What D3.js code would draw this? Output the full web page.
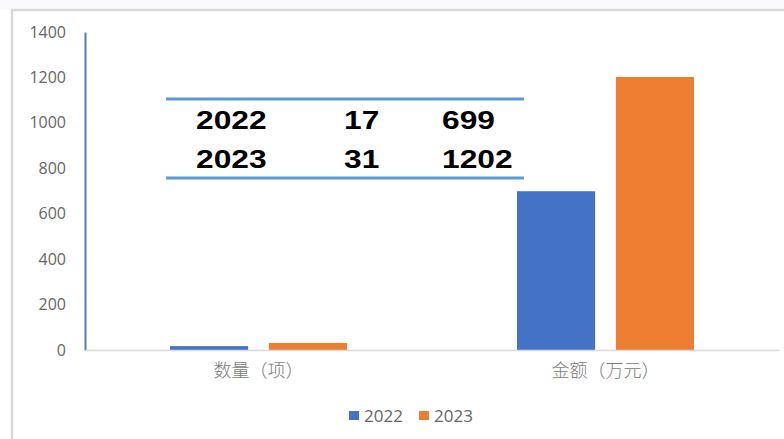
<!DOCTYPE html>
<html>
<head>
<meta charset="utf-8">
<script src="https://cdn.jsdelivr.net/npm/d3@7"></script>
<style>
  html, body { margin: 0; padding: 0; background: #ffffff; }
  svg { display: block; }
</style>
</head>
<body>
<svg id="chart" width="784" height="439"></svg>
<script>
// Projects (count) and funding (10k yuan) by year
const categories = ["数量（项）", "金额（万元）"];
const years = ["2022", "2023"];
const counts = [17, 31];
const amounts = [699, 1202];
const yTicks = [0, 200, 400, 600, 800, 1000, 1200, 1400];

const seriesValues = {
  "2022": [counts[0], amounts[0]],
  "2023": [counts[1], amounts[1]]
};
const colors = { "2022": "#4472C4", "2023": "#ED7D31" };

const svg = d3.select("#chart");
const W = 784, H = 439;
const plot = { left: 85, right: 779, top: 32, bottom: 350 };

// faint frame around the chart area
svg.append("rect").attr("x", 0).attr("y", 0).attr("width", W).attr("height", 10).attr("fill", "#f9f9fc");
svg.append("path")
  .attr("d", `M12,${H} V10 H${W}`)
  .attr("fill", "none").attr("stroke", "#d9d9d9").attr("stroke-width", 2.5);

const y = d3.scaleLinear().domain([0, 1400]).range([plot.bottom, plot.top]);
const x = d3.scaleBand().domain(categories).range([plot.left, plot.right]).padding(0);
const xSub = d3.scaleBand().domain(years)
  .range([-x.bandwidth() * 0.255, x.bandwidth() * 0.255]).paddingInner(0.21);

// value axis
const yAxis = svg.append("g")
  .attr("transform", `translate(${plot.left},0)`)
  .call(d3.axisLeft(y).tickValues(yTicks).tickFormat(d3.format("d"))
    .tickSize(0).tickSizeOuter(0).tickPadding(19));
yAxis.select(".domain").attr("stroke", "#5a78b8").attr("stroke-width", 2);
yAxis.selectAll("text")
  .attr("font-family", "'Open Sans', sans-serif")
  .attr("font-size", 16)
  .attr("fill", "#666666");

// bars
const groups = svg.append("g").selectAll("g")
  .data(categories)
  .join("g")
  .attr("transform", d => `translate(${x(d) + x.bandwidth() / 2},0)`);

groups.selectAll("rect")
  .data((c, i) => years.map(yr => ({ yr, v: seriesValues[yr][i] })))
  .join("rect")
  .attr("x", d => xSub(d.yr))
  .attr("width", xSub.bandwidth())
  .attr("y", d => y(d.v))
  .attr("height", d => y(0) - y(d.v))
  .attr("fill", d => colors[d.yr]);

// category axis
const xAxis = svg.append("g")
  .attr("transform", `translate(0,${plot.bottom})`)
  .call(d3.axisBottom(x).tickSize(0).tickSizeOuter(0).tickPadding(14));
xAxis.select(".domain").attr("stroke", "#d9d9d9").attr("stroke-width", 1.5);
xAxis.selectAll("text")
  .attr("font-family", "'Noto Sans CJK SC', sans-serif")
  .attr("font-size", 18)
  .attr("font-weight", 300)
  .attr("fill", "#7a7a7a");

// legend
const legend = svg.append("g").attr("transform", "translate(349,411)");
const li = legend.selectAll("g").data(years).join("g")
  .attr("transform", (d, i) => `translate(${i * 70},0)`);
li.append("rect").attr("width", 10).attr("height", 9).attr("fill", d => colors[d]);
li.append("text")
  .attr("x", 15).attr("y", 10.5)
  .attr("font-family", "'Open Sans', sans-serif")
  .attr("font-size", 17)
  .attr("fill", "#666666")
  .text(d => d);

// summary table overlay
const table = svg.append("g");
const tableX = [166, 524];
[99, 178].forEach(ly => {
  table.append("line")
    .attr("x1", tableX[0]).attr("x2", tableX[1])
    .attr("y1", ly).attr("y2", ly)
    .attr("stroke", "#5B9BD5").attr("stroke-width", 3);
});
const colX = [196, 344, 442];
const rowY = [128.5, 168];
const rows = years.map((yr, i) => [yr, String(counts[i]), String(amounts[i])]);
rows.forEach((row, r) => {
  row.forEach((cell, c) => {
    table.append("text")
      .attr("transform", `translate(${colX[c]},${rowY[r]}) scale(1.22,1)`)
      .attr("font-family", "'Liberation Sans', Arial, sans-serif")
      .attr("font-weight", "bold")
      .attr("font-size", 26)
      .attr("fill", "#000000")
      .text(cell);
  });
});
</script>
</body>
</html>
